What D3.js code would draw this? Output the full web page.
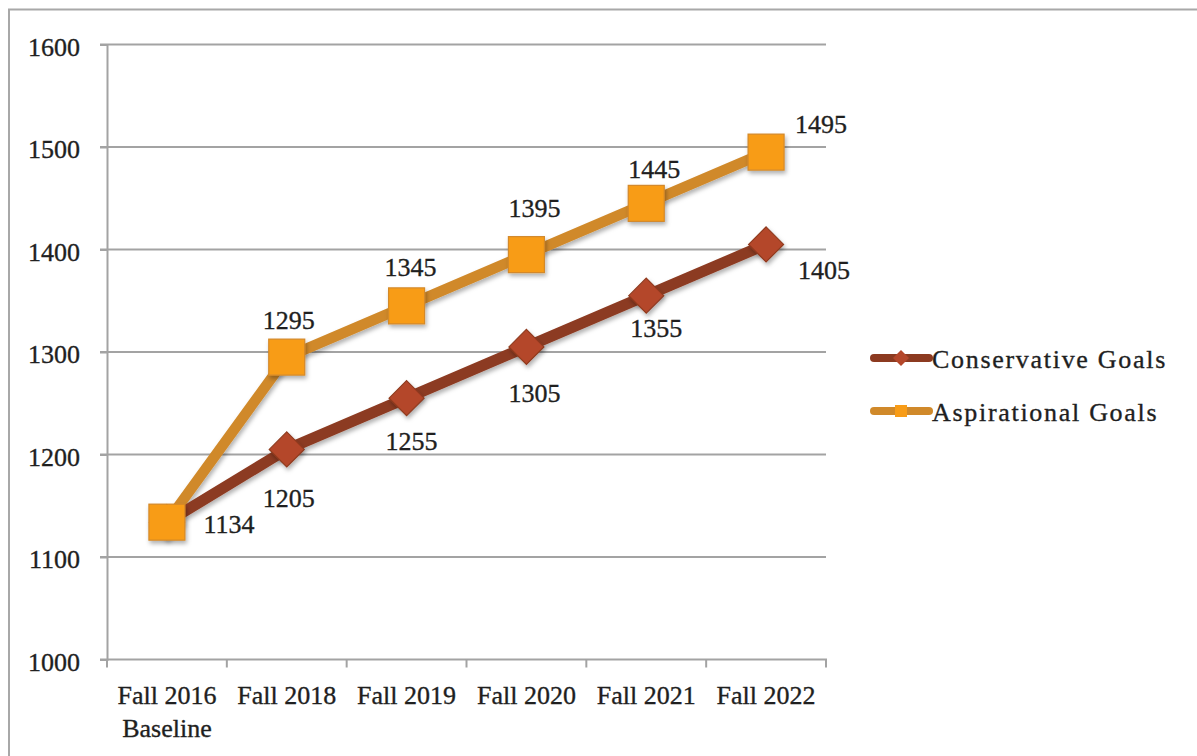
<!DOCTYPE html>
<html>
<head>
<meta charset="utf-8">
<script src="https://cdn.jsdelivr.net/npm/d3@7"></script>
<style>
  html, body { margin: 0; padding: 0; background: #fff; }
  svg { display: block; }
  text { font-family: "Liberation Serif", "Times New Roman", serif; fill: #1f1f1f; stroke: #1f1f1f; stroke-width: 0.35px; }
</style>
</head>
<body>
<svg id="chart" width="1197" height="756"></svg>
<script>
// Enrollment goals by term
const categories = ["Fall 2016|Baseline", "Fall 2018", "Fall 2019", "Fall 2020", "Fall 2021", "Fall 2022"];
const conservative = [1134, 1205, 1255, 1305, 1355, 1405];
const aspirational = [1134, 1295, 1345, 1395, 1445, 1495];
const yTicks = [1000, 1100, 1200, 1300, 1400, 1500, 1600];
const seriesNames = ["Conservative Goals", "Aspirational Goals"];

// Label placement (pixel offsets from each point); null = no label
const conservativeLabelOffsets = [[62, 11], [2, 58], [5, 52], [8, 55], [10, 41], [58, 35]];
const aspirationalLabelOffsets = [null, [2, -28], [4, -30], [8, -38], [8, -25], [55, -19]];

const svg = d3.select("#chart");
const margin = { left: 107, right: 371, top: 44.5, bottom: 96.5 };
const W = 1197, H = 756;

const x = d3.scaleBand()
  .domain(categories)
  .range([margin.left, W - margin.right])
  .paddingInner(0).paddingOuter(0);
const y = d3.scaleLinear()
  .domain([1000, 1600])
  .range([H - margin.bottom, margin.top]);

const cx = c => x(c) + x.bandwidth() / 2;

// Outer frame
svg.append("rect")
  .attr("x", 9).attr("y", 9.5)
  .attr("width", W + 10).attr("height", H + 10)
  .attr("fill", "none").attr("stroke", "#a8a8a8").attr("stroke-width", 2);

// Drop shadow
const defs = svg.append("defs");
const f = defs.append("filter").attr("id", "shadow")
  .attr("x", "-30%").attr("y", "-30%").attr("width", "160%").attr("height", "160%");
f.append("feDropShadow").attr("dx", 1.5).attr("dy", 3).attr("stdDeviation", 2)
  .attr("flood-color", "#000").attr("flood-opacity", 0.3);

// Gridlines
svg.append("g").selectAll("line")
  .data(yTicks.filter(d => d > 1000))
  .join("line")
  .attr("x1", margin.left - 7).attr("x2", W - margin.right)
  .attr("y1", d => y(d)).attr("y2", d => y(d))
  .attr("stroke", "#a3a3a3").attr("stroke-width", 2);

// Y axis
const yAxis = svg.append("g")
  .attr("transform", `translate(${margin.left},0)`)
  .call(d3.axisLeft(y).tickValues(yTicks).tickSize(7).tickPadding(20).tickFormat(d3.format("d")));
yAxis.select(".domain").attr("stroke", "#a3a3a3").attr("stroke-width", 2);
yAxis.selectAll(".tick line").attr("stroke", "#a3a3a3").attr("stroke-width", 2);
yAxis.selectAll(".tick text")
  .attr("font-size", 26).attr("font-family", "Liberation Serif, serif")
  .attr("fill", "#1f1f1f").attr("dy", "0.42em");

// X axis with ticks on band boundaries
const xAxisY = y(1000);
svg.append("line")
  .attr("x1", margin.left - 7).attr("x2", W - margin.right + 1)
  .attr("y1", xAxisY).attr("y2", xAxisY)
  .attr("stroke", "#a3a3a3").attr("stroke-width", 2);
const bounds = categories.map(c => x(c)).concat([x(categories[categories.length - 1]) + x.bandwidth()]);
svg.append("g").selectAll("line")
  .data(bounds)
  .join("line")
  .attr("x1", d => d).attr("x2", d => d)
  .attr("y1", xAxisY).attr("y2", xAxisY + 8)
  .attr("stroke", "#a3a3a3").attr("stroke-width", 2);

const xl = svg.append("g").selectAll("text")
  .data(categories)
  .join("text")
  .attr("x", d => cx(d))
  .attr("y", xAxisY + 44)
  .attr("text-anchor", "middle")
  .attr("font-size", 26);
xl.each(function (d) {
  const parts = d.split("|");
  d3.select(this).selectAll("tspan").data(parts).join("tspan")
    .attr("x", cx(d))
    .attr("dy", (p, i) => i === 0 ? 0 : 33)
    .text(p => p);
});

// Lines
const line = d3.line().x((d, i) => cx(categories[i])).y(d => y(d));
const colors = {
  conLine: "#8c3a20", conFill: "#b4472a", conEdge: "#8f3a1f",
  aspLine: "#d0892a", aspFill: "#f89c17", aspEdge: "#d3892a"
};

svg.append("path").datum(aspirational)
  .attr("d", line).attr("fill", "none")
  .attr("stroke", colors.aspLine).attr("stroke-width", 10.5)
  .attr("stroke-linejoin", "round").attr("filter", "url(#shadow)");
svg.append("path").datum(conservative)
  .attr("d", line).attr("fill", "none")
  .attr("stroke", colors.conLine).attr("stroke-width", 11)
  .attr("stroke-linejoin", "round").attr("filter", "url(#shadow)");

// Diamond markers (conservative)
const dHalf = 17.5;
svg.append("g").selectAll("path")
  .data(conservative)
  .join("path")
  .attr("transform", (d, i) => `translate(${cx(categories[i])},${y(d)})`)
  .attr("d", `M0,${-dHalf}L${dHalf},0L0,${dHalf}L${-dHalf},0Z`)
  .attr("fill", colors.conFill).attr("stroke", colors.conEdge).attr("stroke-width", 1.2)
  .attr("filter", "url(#shadow)");

// Square markers (aspirational)
const sHalf = 18;
svg.append("g").selectAll("rect")
  .data(aspirational)
  .join("rect")
  .attr("x", (d, i) => cx(categories[i]) - sHalf)
  .attr("y", d => y(d) - sHalf)
  .attr("width", sHalf * 2).attr("height", sHalf * 2)
  .attr("fill", colors.aspFill).attr("stroke", colors.aspEdge).attr("stroke-width", 1.2)
  .attr("filter", "url(#shadow)");

// Value labels
function labels(values, offsets) {
  svg.append("g").selectAll("text")
    .data(values.map((v, i) => ({ v, i, o: offsets[i] })).filter(d => d.o))
    .join("text")
    .attr("x", d => cx(categories[d.i]) + d.o[0])
    .attr("y", d => y(d.v) + d.o[1])
    .attr("text-anchor", "middle")
    .attr("font-size", 26)
    .text(d => d.v);
}
labels(aspirational, aspirationalLabelOffsets);
labels(conservative, conservativeLabelOffsets);

// Legend
const legend = svg.append("g");
const legendRows = [
  { name: seriesNames[0], line: colors.conLine, fill: colors.conFill, shape: "diamond", y: 358 },
  { name: seriesNames[1], line: colors.aspLine, fill: colors.aspFill, shape: "square", y: 411 }
];
legendRows.forEach(r => {
  legend.append("line")
    .attr("x1", 874).attr("x2", 929).attr("y1", r.y).attr("y2", r.y)
    .attr("stroke", r.line).attr("stroke-width", 8).attr("stroke-linecap", "round");
  if (r.shape === "diamond") {
    legend.append("path")
      .attr("d", `M901,${r.y - 8}L909,${r.y}L901,${r.y + 8}L893,${r.y}Z`)
      .attr("fill", r.fill);
  } else {
    legend.append("rect")
      .attr("x", 895).attr("y", r.y - 6).attr("width", 12).attr("height", 12)
      .attr("fill", r.fill);
  }
  legend.append("text")
    .attr("x", 932).attr("y", r.y + 10)
    .attr("font-size", 26)
    .attr("letter-spacing", 1.7)
    .text(r.name);
});
</script>
</body>
</html>
